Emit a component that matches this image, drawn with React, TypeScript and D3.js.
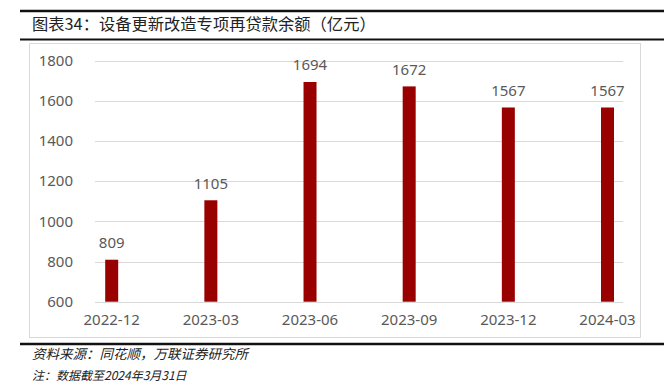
import React from "react";
import * as d3 from "d3";

const categories = ["2022-12", "2023-03", "2023-06", "2023-09", "2023-12", "2024-03"];
const values = [809, 1105, 1694, 1672, 1567, 1567];
const yTicks = [600, 800, 1000, 1200, 1400, 1600, 1800];
const title = "图表34：设备更新改造专项再贷款余额（亿元）";
const source = "资料来源：同花顺，万联证券研究所";
const note = "注：数据截至2024年3月31日";

export default function App() {
  const W = 664, H = 383;
  const x = d3.scalePoint<string>().domain(categories).range([111.7, 607.5]);
  const y = d3.scaleLinear().domain([600, 1800]).range([301.7, 60.7]);
  const barW = 13;
  const gray = "#595959";
  const font = "'Noto Sans', 'Noto Sans CJK SC', sans-serif";
  const cjk = "'Noto Sans CJK SC', sans-serif";
  return (
    <svg width={W} height={H} style={{ position: "absolute", left: 0, top: 0, background: "#fff" }}>
      <rect x={0} y={0} width={W} height={H} fill="#fff" />
      <line x1={20} x2={W} y1={11} y2={11} stroke="#111" strokeWidth={2.5} />
      <text x={32} y={30} fontSize={16.3} fill="#222" fontFamily={cjk}>{title}</text>
      <line x1={20} x2={W} y1={39.5} y2={39.5} stroke="#111" strokeWidth={2} />
      <rect x={29.5} y={43.5} width={611} height={294} fill="none" stroke="#d9d9d9" strokeWidth={1} />
      {yTicks.map((t) => (
        <g key={t}>
          <line x1={95} x2={623} y1={Math.round(y(t)) + 0.5} y2={Math.round(y(t)) + 0.5} stroke="#d9d9d9" strokeWidth={1} />
          <text x={73} y={y(t)} dy="0.35em" textAnchor="end" fontSize={15} fill={gray} fontFamily={font}>{t}</text>
        </g>
      ))}
      {categories.map((c, i) => {
        const cx = x(c) as number;
        const top = y(values[i]);
        return (
          <g key={c}>
            <rect x={cx - barW / 2} y={top} width={barW} height={y(600) - top} fill="#990000" />
            <text x={cx} y={top - 17} dy="0.35em" textAnchor="middle" fontSize={15} fill={gray} fontFamily={font}>{values[i]}</text>
            <text x={cx} y={320} dy="0.35em" textAnchor="middle" fontSize={15} fill={gray} fontFamily={font}>{c}</text>
          </g>
        );
      })}
      <line x1={20} x2={W} y1={344} y2={344} stroke="#111" strokeWidth={2.5} />
      <text x={32} y={359} fontSize={13.5} fontStyle="italic" fill="#222" fontFamily={cjk}>{source}</text>
      <text x={32} y={379.5} fontSize={12} fontStyle="italic" fill="#222" fontFamily={cjk}>{note}</text>
    </svg>
  );
}
